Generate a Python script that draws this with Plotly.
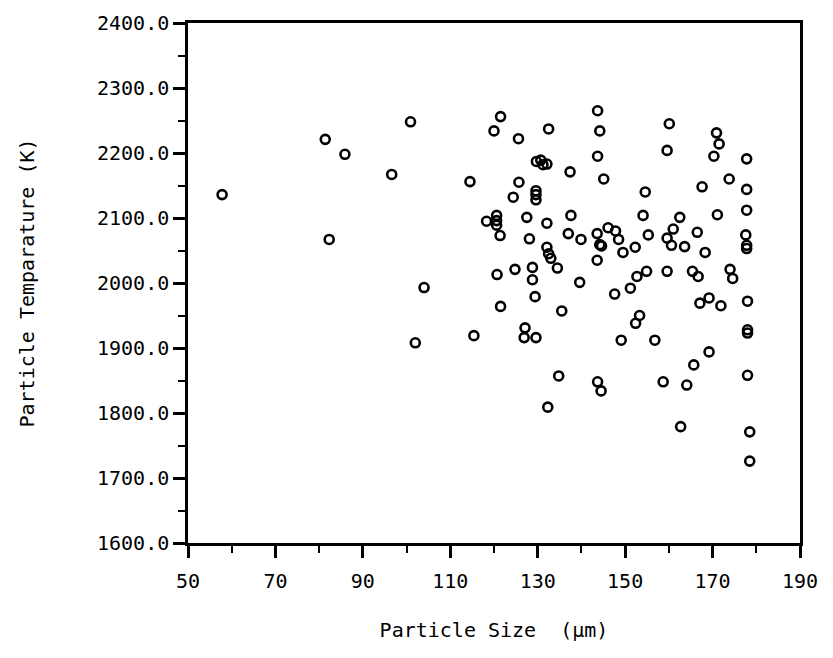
import plotly.graph_objects as go

# Particle size (um) and particle temperature (K)
size_um = [
    57.8, 81.4, 85.9, 100.9, 96.6, 82.3, 114.5, 104.0, 102.0, 115.4,
    121.5, 120.0, 125.6, 132.5, 143.7, 144.2, 160.1, 143.7, 159.6, 170.9,
    171.5, 170.3, 177.8, 129.7, 130.7, 131.2, 132.1, 137.4, 145.1, 125.7,
    124.4, 129.6, 129.6, 129.6, 154.6, 167.6, 173.8, 177.8, 177.8, 118.3,
    120.6, 120.6, 120.6, 121.4, 127.5, 132.1, 137.6, 128.1, 154.1, 162.5,
    171.1, 137.0, 139.9, 143.6, 146.1, 147.8, 148.5, 144.2, 144.6, 132.1,
    132.5, 133.0, 134.5, 155.3, 161.0, 159.6, 160.6, 163.6, 166.5, 168.3,
    152.3, 149.5, 177.6, 177.8, 177.8, 143.6, 120.7, 124.8, 128.8, 128.8,
    139.6, 147.6, 151.2, 152.7, 154.9, 159.6, 165.4, 166.7, 174.0, 174.6,
    129.4, 121.5, 135.5, 127.1, 126.9, 129.6, 134.8, 132.3, 149.1, 153.3,
    152.4, 156.8, 143.7, 144.5, 158.7, 164.1, 162.7, 165.7, 169.2, 167.1,
    169.2, 171.9, 178.0, 178.0, 178.0, 178.0, 178.5, 178.5,
]
temp_k = [
    2136, 2221, 2198, 2248, 2167, 2067, 2156, 1993, 1908, 1919,
    2256, 2234, 2222, 2237, 2265, 2234, 2245, 2195, 2204, 2231,
    2214, 2195, 2191, 2187, 2189, 2182, 2183, 2171, 2160, 2155,
    2132, 2142, 2136, 2128, 2140, 2148, 2160, 2144, 2112, 2095,
    2104, 2096, 2089, 2073, 2101, 2092, 2104, 2068, 2104, 2101,
    2105, 2076, 2067, 2076, 2085, 2080, 2067, 2059, 2057, 2055,
    2045, 2038, 2023, 2074, 2083, 2069, 2058, 2056, 2078, 2047,
    2055, 2047, 2074, 2058, 2053, 2035, 2013, 2021, 2024, 2005,
    2001, 1983, 1992, 2010, 2018, 2018, 2018, 2010, 2021, 2007,
    1979, 1964, 1957, 1931, 1916, 1916, 1857, 1809, 1912, 1950,
    1938, 1912, 1848, 1834, 1848, 1843, 1779, 1874, 1894, 1969,
    1977, 1965, 1972, 1928, 1923, 1858, 1771, 1726,
]

x_ticks = [50, 70, 90, 110, 130, 150, 170, 190]
y_ticks = [1600, 1700, 1800, 1900, 2000, 2100, 2200, 2300, 2400]

FONT = "DejaVu Sans Mono"

fig = go.Figure()
fig.add_trace(go.Scatter(
    x=size_um, y=temp_k, mode="markers",
    marker=dict(symbol="circle-open", size=9, color="black",
                line=dict(width=2.6, color="black")),
    showlegend=False, cliponaxis=False,
))

fig.update_layout(
    width=833, height=658,
    paper_bgcolor="white", plot_bgcolor="white",
    margin=dict(l=188, r=33, t=23, b=115),
    font=dict(family=FONT, color="black", size=19),
)
fig.update_xaxes(
    range=[50, 190], tickvals=x_ticks, ticktext=[str(v) for v in x_ticks],
    showgrid=False, zeroline=False,
    showline=True, linecolor="black", linewidth=2.5, mirror=True,
    ticks="outside", ticklen=12, tickwidth=2.5, tickcolor="black",
    minor=dict(dtick=10, ticks="outside", ticklen=7, tickwidth=2, tickcolor="black"),
    tickfont=dict(family=FONT, size=20, color="black"),
    ticklabelstandoff=6,
    title=dict(text="Particle Size  (\u00b5m)", font=dict(family=FONT, size=20, color="black"),
               standoff=32),
)
fig.update_yaxes(
    range=[1600, 2400], tickvals=y_ticks, ticktext=[f"{v:.1f}" for v in y_ticks],
    showgrid=False, zeroline=False,
    showline=True, linecolor="black", linewidth=2.5, mirror=True,
    ticks="outside", ticklen=12, tickwidth=2.5, tickcolor="black",
    minor=dict(dtick=50, ticks="outside", ticklen=7, tickwidth=2, tickcolor="black"),
    tickfont=dict(family=FONT, size=20, color="black"),
    title=dict(text="Particle Temparature (K)", font=dict(family=FONT, size=20, color="black"),
               standoff=58),
)

fig.write_html("out.html")
